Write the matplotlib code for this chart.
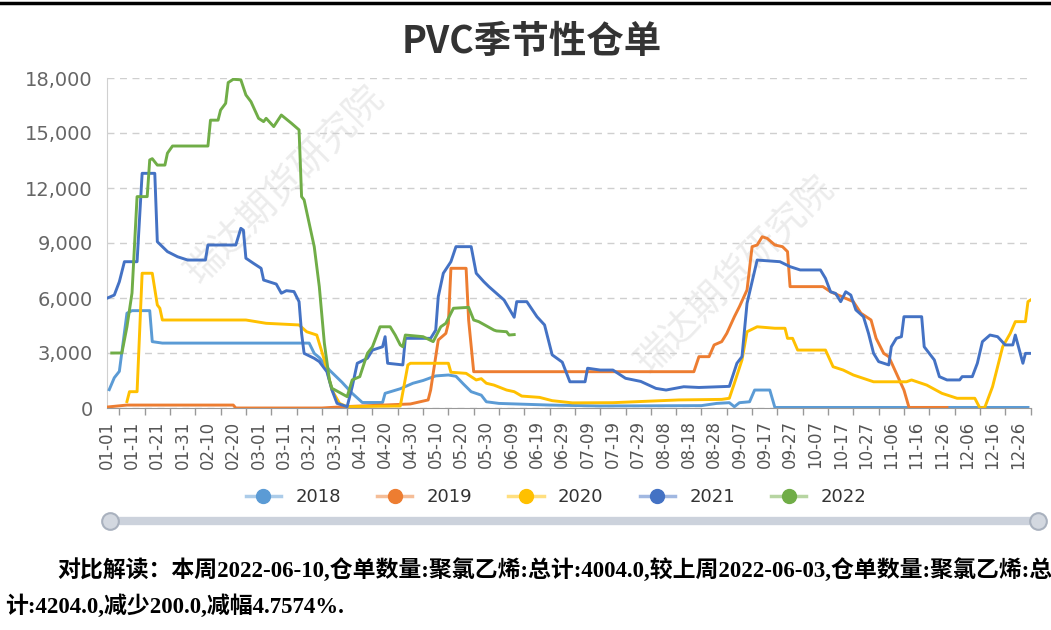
import matplotlib
matplotlib.use("Agg")
import matplotlib.pyplot as plt
from matplotlib.lines import Line2D
from matplotlib.ticker import FuncFormatter
import pandas as pd

plt.rcParams['font.family'] = ['DejaVu Sans', 'Noto Sans CJK SC']

# x 轴类目 (闰年日历, 01-01 .. 12-31)
categories = pd.date_range('2020-01-01', '2020-12-31').strftime('%m-%d').tolist()

years = ['2018', '2019', '2020', '2021', '2022']
colors = ['#5B9BD5', '#ED7D31', '#FFC000', '#4472C4', '#70AD47']

d2018 = ['01-02', '01-04', '01-06', '01-09', '01-11', '01-18', '01-19', '01-23', '03-21', '03-23',
         '03-25', '03-29', '04-03', '04-07', '04-11', '04-19', '04-20', '04-26', '05-01', '05-05',
         '05-10', '05-15', '05-18', '05-21', '05-24', '05-28', '05-30', '06-04', '06-24', '07-14',
         '08-23', '08-29', '09-03', '09-05', '09-07', '09-11', '09-13', '09-19', '09-21', '12-30']
v2018 = [1000, 1650, 2000, 5170, 5310, 5310, 3620, 3540, 3540, 2980,
         2750, 2070, 1400, 800, 300, 300, 800, 1050, 1350, 1500,
         1750, 1800, 1730, 1300, 890, 700, 340, 250, 160, 110,
         130, 250, 290, 70, 290, 340, 980, 980, 30, 30]

d2019 = ['01-01', '01-09', '02-20', '02-21', '03-26', '04-05', '04-30', '05-07', '05-08', '05-10',
         '05-11', '05-14', '05-15', '05-16', '05-22', '05-23', '05-25', '08-20', '08-22', '08-26',
         '08-28', '08-31', '09-02', '09-05', '09-07', '09-10', '09-12', '09-14', '09-16', '09-18',
         '09-21', '09-24', '09-26', '09-27', '10-10', '10-13', '10-22', '10-25', '10-29', '10-31',
         '11-03', '11-05', '11-08', '11-11', '11-13', '11-28']
v2019 = [50, 160, 160, 0, 0, 80, 220, 440, 980, 2800,
         3710, 4070, 4620, 7620, 7620, 4800, 1980, 1980, 2800, 2800,
         3440, 3620, 4070, 4980, 5530, 6440, 8800, 8890, 9340, 9250,
         8890, 8800, 8530, 6620, 6620, 6340, 5800, 5170, 4800, 3800,
         2980, 2800, 1890, 980, 30, 30]

d2020 = ['01-09', '01-10', '01-13', '01-15', '01-19', '01-21', '01-22', '01-23', '02-25', '03-04',
         '03-17', '03-20', '03-24', '03-27', '03-30', '04-02', '04-05', '04-26', '04-29', '04-30',
         '05-15', '05-16', '05-22', '05-26', '05-28', '05-30', '06-02', '06-07', '06-10', '06-13',
         '06-20', '06-25', '07-03', '07-19', '08-14', '08-31', '09-03', '09-05', '09-08', '09-10',
         '09-14', '09-21', '09-25', '09-26', '09-28', '09-30', '10-11', '10-14', '10-18', '10-22',
         '10-30', '11-12', '11-14', '11-20', '11-26', '12-02', '12-09', '12-11', '12-13', '12-16',
         '12-18', '12-20', '12-23', '12-25', '12-29', '12-30', '12-31']
v2020 = [350, 890, 890, 7350, 7350, 5620, 5440, 4800, 4800, 4620,
         4530, 4160, 3980, 2620, 980, 250, 70, 110, 2350, 2440,
         2440, 1950, 1890, 1530, 1600, 1350, 1250, 980, 890, 650,
         580, 400, 280, 290, 440, 470, 530, 1350, 2620, 4160,
         4430, 4350, 4350, 3800, 3800, 3160, 3160, 2250, 2070, 1800,
         1430, 1430, 1530, 1250, 800, 530, 530, 0, 50, 1160,
         2250, 3340, 4070, 4710, 4710, 5800, 5890]

d2021 = ['01-01', '01-04', '01-06', '01-08', '01-13', '01-15', '01-20', '01-21', '01-25', '01-29',
         '02-02', '02-09', '02-10', '02-21', '02-23', '02-24', '02-25', '02-28', '03-02', '03-03',
         '03-08', '03-10', '03-12', '03-15', '03-17', '03-18', '03-19', '03-23', '03-25', '03-28',
         '03-30', '04-01', '04-05', '04-07', '04-09', '04-13', '04-15', '04-19', '04-20', '04-21',
         '04-27', '04-28', '05-08', '05-10', '05-11', '05-13', '05-16', '05-18', '05-24', '05-26',
         '05-29', '05-31', '06-06', '06-10', '06-11', '06-15', '06-19', '06-22', '06-25', '06-29',
         '07-02', '07-08', '07-09', '07-14', '07-19', '07-24', '07-30', '08-05', '08-09', '08-16',
         '08-22', '09-03', '09-06', '09-08', '09-10', '09-14', '09-23', '09-27', '10-01', '10-09',
         '10-11', '10-13', '10-15', '10-17', '10-19', '10-21', '10-23', '10-26', '10-28', '10-30',
         '11-01', '11-05', '11-06', '11-08', '11-10', '11-11', '11-18', '11-19', '11-23', '11-25',
         '11-28', '12-03', '12-04', '12-08', '12-10', '12-12', '12-15', '12-18', '12-21', '12-24',
         '12-25', '12-28', '12-29', '12-31']
v2021 = [5980, 6160, 6890, 7980, 7980, 12800, 12800, 9070, 8530, 8250,
         8070, 8070, 8890, 8890, 9800, 9700, 8170, 7890, 7620, 6980,
         6760, 6260, 6400, 6350, 5800, 4070, 2980, 2710, 2530, 1980,
         980, 256, 70, 1160, 2440, 2710, 3160, 3340, 3890, 2440,
         2350, 3800, 3800, 4250, 6070, 7350, 7980, 8800, 8800, 7350,
         6890, 6620, 5890, 4950, 5800, 5800, 4980, 4530, 2900, 2500,
         1430, 1430, 2170, 2070, 2070, 1620, 1450, 1070, 980, 1160,
         1120, 1180, 2440, 2800, 5710, 8070, 7980, 7710, 7530, 7530,
         7070, 6340, 6250, 5800, 6340, 6160, 5350, 4980, 4070, 2980,
         2530, 2350, 3340, 3800, 3890, 4980, 4980, 3340, 2620, 1710,
         1530, 1530, 1710, 1710, 2440, 3620, 3980, 3890, 3440, 3440,
         3980, 2440, 2980, 2980]

d2022 = ['01-03', '01-07', '01-09', '01-11', '01-13', '01-17', '01-18', '01-19', '01-21', '01-24',
         '01-25', '01-27', '02-10', '02-11', '02-14', '02-15', '02-17', '02-18', '02-20', '02-23',
         '02-25', '02-27', '03-01', '03-03', '03-04', '03-07', '03-10', '03-14', '03-17', '03-18',
         '03-19', '03-23', '03-25', '03-27', '03-29', '03-30', '04-05', '04-07', '04-10', '04-13',
         '04-15', '04-18', '04-22', '04-24', '04-26', '04-27', '04-28', '05-05', '05-09', '05-12',
         '05-14', '05-17', '05-23', '05-25', '05-27', '06-02', '06-03', '06-07', '06-08', '06-10']
v2022 = [3000, 3000, 4430, 6270, 11530, 11530, 13530, 13600, 13250, 13250,
         13900, 14290, 14290, 15700, 15700, 16250, 16620, 17750, 17930, 17900,
         17075, 16710, 15800, 15620, 15800, 15350, 15980, 15530, 15170, 11530,
         11350, 8800, 6620, 3530, 1530, 1075, 620, 1530, 1710, 2980,
         3340, 4430, 4430, 3980, 3440, 3340, 3980, 3890, 3620, 4430,
         4620, 5440, 5490, 4800, 4710, 4250, 4204, 4160, 3980, 4004]

series_dates = [d2018, d2019, d2020, d2021, d2022]
series_vals = [v2018, v2019, v2020, v2021, v2022]

title = 'PVC季节性仓单'
note1 = '对比解读：本周2022-06-10,仓单数量:聚氯乙烯:总计:4004.0,较上周2022-06-03,仓单数量:聚氯乙烯:总'
note2 = '计:4204.0,减少200.0,减幅4.7574%.'
watermark = '瑞达期货研究院'

W, H = 1051, 630
fig = plt.figure(figsize=(W / 100, H / 100), dpi=100)
ax = fig.add_axes([106.7 / W, 1 - 408 / H, (1030.5 - 106.7) / W, (408 - 78) / H])

pos = {c: i for i, c in enumerate(categories)}
for yr, col, ds, vs in zip(years, colors, series_dates, series_vals):
    ax.plot([pos[d] for d in ds], vs, color=col, lw=2.1, solid_joinstyle='round', zorder=3)

ax.set_xlim(0, len(categories) - 1)
ax.set_ylim(0, 18000)
ax.set_yticks(range(0, 18001, 3000))
ax.yaxis.set_major_formatter(FuncFormatter(lambda v, p: f'{int(v):,}'))
ax.set_xticks(range(0, len(categories), 10))
ax.set_xticklabels(categories[::10], rotation=90, fontsize=12, color='#555')
ax.set_xticks(range(5, len(categories) + 1, 10), minor=True)
ax.tick_params(axis='x', which='major', length=0, pad=9)
ax.tick_params(axis='x', which='minor', length=5, color='#999', width=1)
ax.tick_params(axis='y', length=0, labelsize=14, labelcolor='#666', pad=10)
ax.grid(axis='y', color='#cfcfcf', ls=(0, (5, 4)), lw=1)
for s in ['top', 'right']:
    ax.spines[s].set_visible(False)
ax.spines['left'].set_color('#d0d0d0')
ax.spines['bottom'].set_color('#999')
ax.spines['bottom'].set_zorder(4)

# 水印
for cx, cy in [(285, 185), (735, 275)]:
    ax.text(cx / W, 1 - cy / H, watermark, transform=fig.transFigure, rotation=45,
            ha='center', va='center', fontsize=27, color='#c8c8c8', alpha=0.35,
            family='Noto Sans CJK SC', zorder=1)

fig.text(532 / W, 1 - 42 / H, title, ha='center', va='center', fontsize=27,
         weight='bold', color='#333', family='Noto Sans CJK SC')

handles = [Line2D([], [], color=matplotlib.colors.to_rgba(c, 0.5), lw=2.5, marker='o',
                  markersize=10, markerfacecolor=c, markeredgecolor=c) for c in colors]
ax.legend(handles, years, ncol=5, frameon=False, loc='center',
          bbox_to_anchor=(556 / W, 1 - 497 / H), bbox_transform=fig.transFigure,
          handlelength=1.95, handletextpad=0.8, columnspacing=2.0,
          prop={'size': 13}, labelcolor='#333')

# 缩放条
fig.add_artist(Line2D([110 / W, 1038 / W], [1 - 521 / H] * 2, lw=6, color='#ccd2dc',
                      solid_capstyle='round'))
fig.add_artist(Line2D([110 / W, 1038 / W], [1 - 521 / H] * 2, lw=0, marker='o', markersize=12,
                      markerfacecolor='#d3d8e0', markeredgecolor='#a9b1be', markeredgewidth=1.5))

fig.add_artist(Line2D([0, 1], [1 - 3 / H] * 2, lw=2.5, color='black'))

txt_font = ['Liberation Serif', 'Noto Sans CJK SC']
fig.text(57 / W, 1 - 570 / H, note1, fontsize=16.5, weight='bold', family=txt_font, va='center')
fig.text(5 / W, 1 - 606 / H, note2, fontsize=16.5, weight='bold', family=txt_font, va='center')

fig.savefig('out.png', dpi=100)
